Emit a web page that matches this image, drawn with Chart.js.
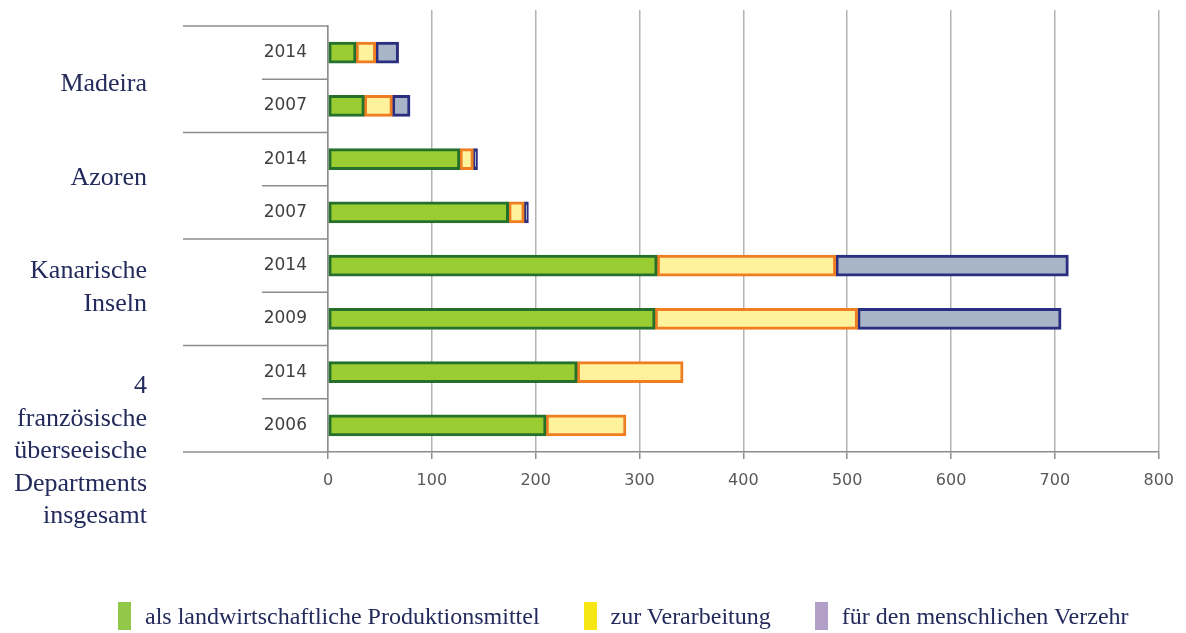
<!DOCTYPE html>
<html>
<head>
<meta charset="utf-8">
<script src="https://cdn.jsdelivr.net/npm/chart.js@4/dist/chart.umd.min.js"></script>
<style>
  body { margin: 0; background: #fff; }
  #wrap { position: relative; width: 1186px; height: 633px; }
  #legend { position: absolute; left: 118px; top: 602px; display: flex; align-items: center;
    font-family: "Liberation Serif", serif; font-size: 24px; color: #232a5c; }
  .item { display: flex; align-items: center; margin-right: 44px; }
  .swatch { width: 13px; height: 28px; margin-right: 14px; }
</style>
</head>
<body>
<div id="wrap">
  <canvas id="chart" width="1186" height="633"></canvas>
  <div id="legend"></div>
</div>
<script>
// Rows from top to bottom, two years per region.
const years = ["2014", "2007", "2014", "2007", "2014", "2009", "2014", "2006"];
const groupLabels = [
  ["Madeira"],
  ["Azoren"],
  ["Kanarische", "Inseln"],
  ["4", "französische", "überseeische", "Departments", "insgesamt"]
];
const seriesNames = ["als landwirtschaftliche Produktionsmittel", "zur Verarbeitung", "für den menschlichen Verzehr"];
const produktion = [27, 35, 127, 174, 317, 315, 240, 210];
const verarbeitung = [19, 27, 13, 15, 172, 195, 102, 77];
const verzehr = [22, 17, 4, 4, 224, 196, null, null];
const xTicks = [0, 100, 200, 300, 400, 500, 600, 700, 800];

const navy = "#232a5c";
const legendColors = ["#92c84a", "#f5e614", "#b3a0c8"];

// Left side: region names and separator lines, plus gridlines reaching above the plot.
const sidePlugin = {
  id: "side",
  beforeDatasetsDraw(chart) {
    const { ctx, chartArea, scales } = chart;
    ctx.save();
    ctx.strokeStyle = "#b4b4b4";
    ctx.lineWidth = 1.5;
    xTicks.slice(1).forEach((v) => {
      // same pixel alignment as Chart.js uses for grid lines
      const x = Math.round(scales.x.getPixelForValue(v) - 0.75) + 0.75;
      ctx.beginPath();
      ctx.moveTo(x, 10);
      ctx.lineTo(x, chartArea.top + 1);
      ctx.stroke();
    });
    ctx.restore();
  },
  afterDraw(chart) {
    const { ctx, chartArea, scales } = chart;
    const y = scales.y;
    const step = (chartArea.bottom - chartArea.top) / years.length;
    ctx.save();
    ctx.strokeStyle = "#8c8c8c";
    ctx.lineWidth = 1.5;
    for (let k = 0; k <= years.length; k++) {
      const yy = chartArea.top + k * step;
      ctx.beginPath();
      ctx.moveTo(k % 2 === 0 ? 183 : 262, yy);
      ctx.lineTo(chartArea.left, yy);
      ctx.stroke();
    }
    // Region names, serif, right-aligned.
    const shift = [4.5, -7.5, -21, -12.5];
    ctx.fillStyle = navy;
    ctx.font = "26px 'Liberation Serif'";
    ctx.textAlign = "right";
    ctx.textBaseline = "middle";
    groupLabels.forEach((lines, g) => {
      const c = (y.getPixelForValue(2 * g) + y.getPixelForValue(2 * g + 1)) / 2;
      lines.forEach((t, i) => ctx.fillText(t, 147, c + shift[g] + i * 32.5));
    });
    ctx.restore();
  }
};

const barStyle = { barThickness: 21, borderWidth: 3, borderSkipped: false };

new Chart(document.getElementById("chart"), {
  type: "bar",
  data: {
    labels: years,
    datasets: [
      { label: seriesNames[0], data: produktion, backgroundColor: "#9acd32", borderColor: "#24702c", ...barStyle },
      { label: seriesNames[1], data: verarbeitung, backgroundColor: "#fff29c", borderColor: "#ef7d22", ...barStyle },
      { label: seriesNames[2], data: verzehr, backgroundColor: "#a8b4c8", borderColor: "#2a2e80", ...barStyle }
    ]
  },
  options: {
    indexAxis: "y",
    responsive: false,
    animation: false,
    devicePixelRatio: 1,
    layout: { padding: { top: 26, right: 26, bottom: 141, left: 0 } },
    scales: {
      x: {
        stacked: true,
        min: 0,
        max: 800,
        ticks: { stepSize: 100, color: "#595959", font: { family: "DejaVu Sans", size: 16 }, padding: 12 },
        grid: { color: "#b4b4b4", lineWidth: 1.5, tickLength: 7, tickColor: "#8c8c8c" },
        border: { color: "#8c8c8c", width: 1.5 },
        afterFit(scale) { scale.height = 40; }
      },
      y: {
        stacked: true,
        ticks: { color: "#404040", font: { family: "DejaVu Sans", size: 17 }, padding: 21 },
        grid: { display: false, drawTicks: false },
        border: { color: "#8c8c8c", width: 1.5 },
        afterFit(scale) {
          scale.width = 328;
          scale.paddingTop = 0;
          scale.paddingBottom = 0;
        }
      }
    },
    plugins: {
      legend: { display: false },
      tooltip: { enabled: false }
    }
  },
  plugins: [sidePlugin]
});

// Legend below the chart.
const legend = document.getElementById("legend");
seriesNames.forEach((name, i) => {
  const item = document.createElement("div");
  item.className = "item";
  const sw = document.createElement("span");
  sw.className = "swatch";
  sw.style.background = legendColors[i];
  item.appendChild(sw);
  const txt = document.createElement("span");
  txt.textContent = name;
  item.appendChild(txt);
  legend.appendChild(item);
});
</script>
</body>
</html>
